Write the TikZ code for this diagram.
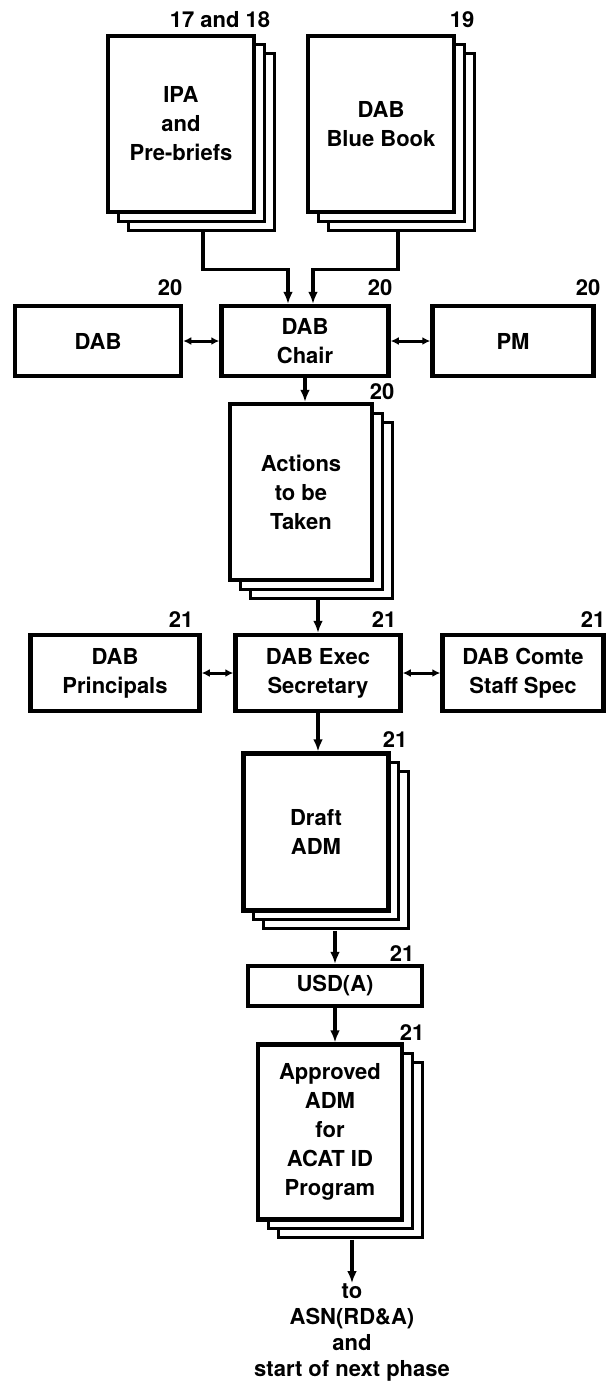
\documentclass[tikz,border=0pt]{standalone}
\usepackage{fontspec}
\setmainfont{TeX Gyre Heros}
\usetikzlibrary{arrows.meta,shadows}

\tikzset{
    lbl/.style={font=\fontsize{22}{29}\selectfont\bfseries, align=center},
    box/.style={lbl, draw, line width=4.5pt, fill=white, inner sep=2pt},
    doc/.style={box,
        copy shadow={shadow xshift=20pt, shadow yshift=-18pt, draw=black, fill=white, line width=3pt},
        copy shadow={shadow xshift=10pt, shadow yshift=-9pt, draw=black, fill=white, line width=3pt}},
    num/.style={lbl, inner sep=0pt},
    arr/.style={line width=3.5pt, -{Latex[length=12pt,width=10pt]}},
    dbl/.style={line width=3pt, {Latex[length=8pt,width=8pt]}-{Latex[length=8pt,width=8pt]}}
}

\begin{document}
\begin{tikzpicture}[x=1pt,y=-1pt]
    \useasboundingbox (0,0) rectangle (607,1397);

    % documents at the top
    \node[doc, minimum width=146pt, minimum height=176pt] (ipa) at (181,124) {IPA\\and\\Pre-briefs};
    \node[doc, minimum width=146pt, minimum height=176pt] (blue) at (381,124) {DAB\\Blue Book};

    % first row
    \node[box, minimum width=166pt, minimum height=70pt] (dab) at (98,341) {DAB};
    \node[box, minimum width=167pt, minimum height=70pt] (chair) at (305,341) {DAB\\Chair};
    \node[box, minimum width=161pt, minimum height=70pt] (pm) at (513,341) {PM};

    \node[doc, minimum width=142pt, minimum height=176pt] (actions) at (301,492) {Actions\\to be\\Taken};

    % second row
    \node[box, minimum width=169pt, minimum height=76pt] (princ) at (115,673) {DAB\\Principals};
    \node[box, minimum width=165pt, minimum height=76pt] (exec) at (318,673) {DAB Exec\\Secretary};
    \node[box, minimum width=161pt, minimum height=76pt] (staff) at (523,673) {DAB Comte\\Staff Spec};

    \node[doc, minimum width=145pt, minimum height=157pt] (draft) at (316,832) {Draft\\ADM};
    \node[box, minimum width=174pt, minimum height=40pt] (usd) at (335,986) {USD(A)};
    \node[doc, minimum width=144pt, minimum height=175pt] (approved) at (330,1132) {Approved\\ADM\\for\\ACAT ID\\Program};

    \node[lbl, anchor=north, inner sep=0pt, font=\fontsize{22}{26}\selectfont\bfseries] (next) at (352,1283)
        {to\\ASN(RD\&A)\\and\\start of next phase};

    % step numbers
    \node[num] (n1) at (220,20) {17 and 18};
    \node[num] (n2) at (462,20) {19};
    \node[num] (n3) at (170,288) {20};
    \node[num] (n4) at (380,288) {20};
    \node[num] (n5) at (588,288) {20};
    \node[num] (n6) at (382,392) {20};
    \node[num] (n7) at (181,620) {21};
    \node[num] (n8) at (384,620) {21};
    \node[num] (n9) at (593,620) {21};
    \node[num] (n10) at (395,740) {21};
    \node[num] (n11) at (402,954) {21};
    \node[num] (n12) at (412,1033) {21};

    % bottoms of the page stacks
    \coordinate (actbot) at ([yshift=-18pt]actions.south);
    \coordinate (draftbot) at ([yshift=-18pt]draft.south);
    \coordinate (apprbot) at ([yshift=-18pt]approved.south);

    % connectors
    \draw[arr] ([xshift=22pt,yshift=-18pt]ipa.south) -- ++(0,37) -| ([xshift=-17pt]chair.north);
    \draw[arr] ([xshift=17pt,yshift=-18pt]blue.south) -- ++(0,37) -| ([xshift=8pt]chair.north);

    \draw[dbl] (dab.east) -- (chair.west);
    \draw[dbl] (chair.east) -- (pm.west);
    \draw[arr] (chair.south) -- (chair.south |- actions.north);

    \draw[arr] (actbot -| exec.north) -- (exec.north);
    \draw[dbl] (princ.east) -- (exec.west);
    \draw[dbl] (exec.east) -- (staff.west);
    \draw[arr] (exec.south) -- (exec.south |- draft.north);

    \draw[arr] (draftbot -| usd.north) -- (usd.north);
    \draw[arr] (usd.south) -- (usd.south |- approved.north);
    \draw[arr] (apprbot -| next.north) -- (next.north);

\end{tikzpicture}
\end{document}
